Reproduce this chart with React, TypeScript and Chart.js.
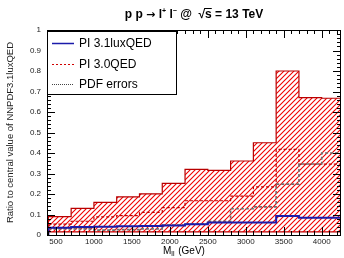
import React, { useEffect, useRef } from 'react';
import { Chart, registerables } from 'chart.js';

Chart.register(...registerables);

// ---- data ----
const binEdges = [400, 700, 1000, 1300, 1600, 1900, 2200, 2500, 2800, 3100, 3400, 3700, 4000, 4300];
const qed30BandUpper = [0.09, 0.13, 0.159, 0.186, 0.201, 0.252, 0.32, 0.315, 0.361, 0.45, 0.8, 0.67, 0.667];
const qed30BandLower = [0.015, 0.015, 0.015, 0.015, 0.015, 0.015, 0.015, 0.015, 0.015, 0.015, 0.015, 0.015, 0.015];
const qed30Central = [0.053, 0.067, 0.088, 0.095, 0.11, 0.134, 0.167, 0.167, 0.19, 0.235, 0.418, 0.346, 0.346];
const pdfErrors = [0.03, 0.03, 0.024, 0.026, 0.03, 0.049, 0.055, 0.067, 0.128, 0.137, 0.248, 0.346, 0.4];
const lux31Central = [0.035, 0.039, 0.04, 0.043, 0.044, 0.046, 0.053, 0.061, 0.061, 0.061, 0.093, 0.084, 0.084];

const xTickLabels = [500, 1000, 1500, 2000, 2500, 3000, 3500, 4000];
const xMinorTicks = [400, 500, 600, 700, 800, 900, 1000, 1100, 1200, 1300, 1400, 1500, 1600, 1700, 1800, 1900, 2000, 2100, 2200, 2300, 2400, 2500, 2600, 2700, 2800, 2900, 3000, 3100, 3200, 3300, 3400, 3500, 3600, 3700, 3800, 3900, 4000, 4100, 4200];
const yTickLabels = [0, 0.1, 0.2, 0.3, 0.4, 0.5, 0.6, 0.7, 0.8, 0.9, 1];
const yMinorTicks = [0.02, 0.04, 0.06, 0.08, 0.12, 0.14, 0.16, 0.18, 0.22, 0.24, 0.26, 0.28, 0.32, 0.34, 0.36, 0.38, 0.42, 0.44, 0.46, 0.48, 0.52, 0.54, 0.56, 0.58, 0.62, 0.64, 0.66, 0.68, 0.72, 0.74, 0.76, 0.78, 0.82, 0.84, 0.86, 0.88, 0.92, 0.94, 0.96, 0.98];

const legendLabels = ['PI 3.1luxQED', 'PI 3.0QED', 'PDF errors'];

const FONT = '"Liberation Sans", Arial, Helvetica, sans-serif';

function histPoints(vals: number[], base: number | null) {
  const pts: { x: number; y: number }[] = [];
  if (base !== null) pts.push({ x: binEdges[0], y: base });
  vals.forEach((v, i) => pts.push({ x: binEdges[i], y: v }));
  pts.push({ x: binEdges[binEdges.length - 1], y: vals[vals.length - 1] });
  return pts;
}

function makeHatch(): CanvasPattern | string {
  const c = document.createElement('canvas');
  const s = 5;
  c.width = s;
  c.height = s;
  const g = c.getContext('2d');
  if (!g) return 'rgba(255,0,0,0.3)';
  g.strokeStyle = 'rgb(240,0,0)';
  g.lineWidth = 1.1;
  g.beginPath();
  g.moveTo(-1, s + 1);
  g.lineTo(s + 1, -1);
  g.moveTo(-1, 1);
  g.lineTo(1, -1);
  g.moveTo(s - 1, s + 1);
  g.lineTo(s + 1, s - 1);
  g.stroke();
  return g.createPattern(c, 'repeat') || 'rgba(255,0,0,0.3)';
}

const decorPlugin = {
  id: 'rootDecor',
  afterDatasetsDraw(chart: any) {
    const { ctx, chartArea: a, scales } = chart;
    const x = scales.x;
    const y = scales.y;
    ctx.save();
    ctx.strokeStyle = '#000';
    ctx.lineWidth = 1;
    ctx.beginPath();
    const ytick = (v: number, len: number) => {
      const py = Math.round(y.getPixelForValue(v)) + 0.5;
      ctx.moveTo(a.left, py);
      ctx.lineTo(a.left + len, py);
      ctx.moveTo(a.right, py);
      ctx.lineTo(a.right - len, py);
    };
    yTickLabels.forEach((v) => ytick(v, 8));
    yMinorTicks.forEach((v) => ytick(v, 4));
    const xtick = (v: number, len: number) => {
      const px = Math.round(x.getPixelForValue(v)) + 0.5;
      ctx.moveTo(px, a.bottom);
      ctx.lineTo(px, a.bottom - len);
      ctx.moveTo(px, a.top);
      ctx.lineTo(px, a.top + len);
    };
    xTickLabels.forEach((v) => xtick(v, 8));
    xMinorTicks.forEach((v) => xtick(v, 4));
    ctx.stroke();
    ctx.strokeRect(Math.round(a.left) + 0.5, Math.round(a.top) + 0.5, Math.round(a.right - a.left) - 1, Math.round(a.bottom - a.top));

    // legend
    const lx = Math.round(a.left) + 0.5;
    const ly = Math.round(a.top) + 1.5;
    const lw = 129;
    const lh = 63;
    ctx.fillStyle = '#fff';
    ctx.fillRect(lx, ly, lw, lh);
    ctx.strokeStyle = '#000';
    ctx.strokeRect(lx, ly, lw, lh);
    const rows = [43.5, 64.5, 84.5];
    const styles = [
      { color: '#1b1baa', dash: [] as number[], w: 1.5 },
      { color: '#d00000', dash: [2, 2], w: 1.2 },
      { color: '#444', dash: [1, 1], w: 1 },
    ];
    ctx.font = `12px ${FONT}`;
    ctx.textBaseline = 'middle';
    ctx.textAlign = 'left';
    rows.forEach((ry, i) => {
      const st = styles[i];
      ctx.beginPath();
      ctx.setLineDash(st.dash);
      ctx.strokeStyle = st.color;
      ctx.lineWidth = st.w;
      ctx.moveTo(a.left + 5, ry);
      ctx.lineTo(a.left + 27, ry);
      ctx.stroke();
      ctx.setLineDash([]);
      ctx.fillStyle = '#000';
      ctx.fillText(legendLabels[i], a.left + 32, ry + 0.5);
    });

    // x title: M_ll (GeV)
    ctx.fillStyle = '#000';
    ctx.textBaseline = 'alphabetic';
    let tx = 163;
    const ty = 254;
    ctx.font = `10px ${FONT}`;
    ctx.fillText('M', tx, ty);
    tx += ctx.measureText('M').width;
    ctx.font = `7px ${FONT}`;
    ctx.fillText('ll', tx, ty + 2);
    tx += ctx.measureText('ll').width + 1;
    ctx.font = `10px ${FONT}`;
    ctx.fillText(' (GeV)', tx, ty);

    // title
    const parts: { t: string; font: string; dy: number }[] = [
      { t: 'p p ', font: `bold 12px ${FONT}`, dy: 0 },
      { t: '\u2192', font: `bold 11px "DejaVu Sans", sans-serif`, dy: 0 },
      { t: ' l', font: `bold 12px ${FONT}`, dy: 0 },
      { t: '+', font: `bold 7px ${FONT}`, dy: -5 },
      { t: ' l', font: `bold 12px ${FONT}`, dy: 0 },
      { t: '\u2212', font: `bold 7px ${FONT}`, dy: -5 },
      { t: ' @  \u221A', font: `bold 12px ${FONT}`, dy: 0 },
      { t: 's', font: `bold 12px ${FONT}`, dy: 0 },
      { t: ' = 13 TeV', font: `bold 12px ${FONT}`, dy: 0 },
    ];
    let total = 0;
    parts.forEach((p) => {
      ctx.font = p.font;
      total += ctx.measureText(p.t).width;
    });
    let px = 194 - total / 2;
    const py = 18;
    parts.forEach((p) => {
      ctx.font = p.font;
      ctx.fillText(p.t, px, py + p.dy);
      const w = ctx.measureText(p.t).width;
      if (p.t === 's') {
        ctx.beginPath();
        ctx.lineWidth = 1;
        ctx.strokeStyle = '#000';
        ctx.moveTo(px - 1, py - 9.5);
        ctx.lineTo(px + w, py - 9.5);
        ctx.stroke();
      }
      px += w;
    });
    ctx.restore();
  },
};

export default function App() {
  const ref = useRef<HTMLCanvasElement | null>(null);

  useEffect(() => {
    if (!ref.current) return;
    const hatch = makeHatch();
    const base = {
      stepped: 'before' as const,
      pointRadius: 0,
      pointHoverRadius: 0,
      tension: 0,
    };
    const chart = new Chart(ref.current, {
      type: 'line',
      data: {
        datasets: [
          {
            ...base,
            label: 'PI 3.1luxQED',
            data: histPoints(lux31Central, 0),
            borderColor: '#1b1baa',
            borderWidth: 2,
            fill: false,
            order: 0,
          },
          {
            ...base,
            label: 'PDF errors',
            data: histPoints(pdfErrors, null),
            borderColor: '#707070',
            borderWidth: 1.6,
            borderDash: [3, 2],
            fill: false,
            order: 1,
          },
          {
            ...base,
            label: 'PI 3.0QED',
            data: histPoints(qed30Central, null),
            borderColor: '#c00000',
            borderWidth: 1.2,
            borderDash: [3, 2],
            fill: false,
            order: 2,
          },
          {
            ...base,
            label: 'band upper',
            data: histPoints(qed30BandUpper, qed30BandLower[0]),
            borderColor: '#b80000',
            borderWidth: 1.2,
            backgroundColor: hatch as any,
            fill: '+1',
            order: 3,
          },
          {
            ...base,
            label: 'band lower',
            data: histPoints(qed30BandLower, null),
            borderColor: '#b80000',
            borderWidth: 1.2,
            fill: false,
            order: 4,
          },
        ],
      },
      options: {
        animation: false,
        responsive: false,
        events: [],
        layout: { padding: { top: 30, right: 3, left: 0, bottom: 0 } },
        plugins: {
          legend: { display: false },
          tooltip: { enabled: false },
          title: { display: false },
        },
        scales: {
          x: {
            type: 'linear',
            min: 382,
            max: 4254,
            grid: { display: false, drawTicks: false },
            border: { display: false },
            afterBuildTicks: (scale: any) => {
              scale.ticks = xTickLabels.map((v) => ({ value: v }));
            },
            afterFit: (scale: any) => {
              scale.height = 23;
            },
            ticks: {
              padding: 2,
              maxRotation: 0,
              autoSkip: false,
              color: '#222',
              font: { family: FONT, size: 8 },
              callback: (v: any) => String(v),
            },
          },
          y: {
            type: 'linear',
            min: 0,
            max: 1,
            grid: { display: false, drawTicks: false },
            border: { display: false },
            afterBuildTicks: (scale: any) => {
              scale.ticks = yTickLabels.map((v) => ({ value: v }));
            },
            afterFit: (scale: any) => {
              scale.width = 47;
            },
            ticks: {
              padding: 6,
              autoSkip: false,
              color: '#222',
              font: { family: FONT, size: 8 },
              callback: (v: any) => String(Math.round(Number(v) * 10) / 10),
            },
            title: {
              display: true,
              text: 'Ratio to central value of NNPDF3.1luxQED',
              color: '#222',
              font: { family: FONT, size: 9.5 },
              padding: { top: 5, bottom: 0 },
            },
          },
        },
      },
      plugins: [decorPlugin],
    } as any);
    return () => chart.destroy();
  }, []);

  return (
    <div style={{ position: 'fixed', left: 0, top: 0, width: 344, height: 258, background: '#fff' }}>
      <canvas ref={ref} width={344} height={258} style={{ width: 344, height: 258, display: 'block' }} />
    </div>
  );
}
